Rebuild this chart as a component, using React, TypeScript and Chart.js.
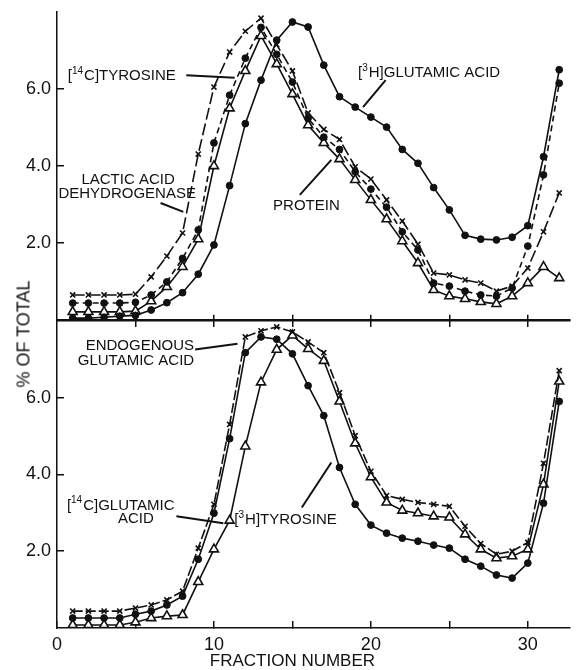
import React, { useEffect, useRef } from 'react';
import { Chart, registerables } from 'chart.js';

Chart.register(...registerables);

const INK = '#111';
const FONT = 'Liberation Sans';
Chart.defaults.font.family = FONT;

// ---- data ----
const FRACTIONS = [1, 2, 3, 4, 5, 6, 7, 8, 9, 10, 11, 12, 13, 14, 15, 16, 17, 18, 19, 20, 21, 22, 23, 24, 25, 26, 27, 28, 29, 30, 31, 32];
const X_MAX = 32.7;
const Y_MAX = 8;
const Y_TICKS = [2, 4, 6];
const X_TICKS = [5, 10, 15, 20, 25, 30];
const X_LABEL_TICKS = [0, 5, 10, 15, 20, 25, 30];
const X_TICK_LABELS: Record<number, string> = { 0: '0', 10: '10', 20: '20', 30: '30' };

// top panel
const glutamic3H = [0.05, 0.05, 0.07, 0.1, 0.12, 0.26, 0.45, 0.71, 1.19, 1.95, 3.49, 5.1, 6.23, 7.27, 7.74, 7.61, 6.62, 5.8, 5.53, 5.27, 5.01, 4.43, 4.07, 3.44, 2.86, 2.2, 2.1, 2.08, 2.15, 2.45, 4.24, 6.5];
const tyrosine14C = [0.44, 0.44, 0.44, 0.44, 0.46, 0.65, 0.99, 1.6, 2.34, 4.6, 5.84, 6.8, 7.6, 6.9, 6.18, 5.24, 4.75, 4.43, 3.85, 3.4, 2.93, 2.29, 1.82, 0.96, 0.88, 0.75, 0.65, 0.62, 0.83, 1.92, 3.77, 6.15];
const lactateDH = [0.65, 0.65, 0.65, 0.65, 0.67, 1.12, 1.66, 2.26, 4.31, 6.05, 6.96, 7.5, 7.84, 7.15, 6.47, 5.38, 4.95, 4.69, 3.98, 3.66, 3.12, 2.57, 1.97, 1.22, 1.17, 1.04, 0.96, 0.75, 0.88, 1.35, 2.29, 3.3];
const protein = [0.21, 0.21, 0.21, 0.21, 0.23, 0.49, 0.86, 1.38, 2.1, 4.0, 5.5, 6.47, 7.38, 6.65, 5.87, 5.06, 4.6, 4.18, 3.64, 3.12, 2.62, 2.05, 1.48, 0.78, 0.62, 0.55, 0.47, 0.42, 0.62, 0.96, 1.38, 1.09];

// bottom panel
const endogenousGlu = [0.44, 0.44, 0.44, 0.44, 0.52, 0.6, 0.73, 0.96, 2.08, 3.22, 5.3, 7.58, 7.74, 7.84, 7.71, 7.45, 7.17, 6.13, 5.01, 4.08, 3.45, 3.35, 3.27, 3.22, 3.17, 2.65, 2.2, 1.92, 2.0, 2.23, 4.29, 6.7];
const tyrosine3H = [0.26, 0.26, 0.26, 0.26, 0.36, 0.44, 0.6, 0.83, 1.79, 2.99, 4.93, 7.17, 7.58, 7.52, 7.14, 6.31, 5.53, 4.18, 3.22, 2.68, 2.47, 2.34, 2.26, 2.16, 2.08, 1.79, 1.61, 1.38, 1.3, 1.69, 3.25, 5.9];
const glutamic14C = [0.08, 0.08, 0.08, 0.08, 0.15, 0.26, 0.31, 0.34, 1.2, 2.05, 2.8, 4.73, 6.4, 7.25, 7.62, 7.27, 6.96, 5.9, 4.81, 3.93, 3.27, 3.06, 2.99, 2.91, 2.88, 2.44, 2.05, 1.82, 1.87, 2.05, 3.74, 6.42];

// ---- annotations (data units) ----
type Part = { t: string; sup?: boolean };
type NoteLine = { parts: Part[]; x: number; y: number; align: 'left' | 'center' };
type Note = { lines: NoteLine[]; leader: [number, number, number, number] };

const TOP_NOTES: Note[] = [
  { lines: [{ parts: [{ t: '[' }, { t: '14', sup: true }, { t: 'C]TYROSINE' }], x: 0.69, y: 6.34, align: 'left' }], leader: [8.24, 6.36, 11.32, 6.29] },
  { lines: [{ parts: [{ t: '[' }, { t: '3', sup: true }, { t: 'H]GLUTAMIC ACID' }], x: 19.18, y: 6.42, align: 'left' }], leader: [20.94, 6.23, 19.5, 5.53] },
  { lines: [
      { parts: [{ t: 'LACTIC ACID' }], x: 4.53, y: 3.64, align: 'center' },
      { parts: [{ t: 'DEHYDROGENASE' }], x: 4.47, y: 3.27, align: 'center' },
    ], leader: [6.6, 3.04, 8.05, 2.81] },
  { lines: [{ parts: [{ t: 'PROTEIN' }], x: 13.77, y: 2.96, align: 'left' }], leader: [15.47, 3.25, 17.48, 4.16] },
];

const BOTTOM_NOTES: Note[] = [
  { lines: [
      { parts: [{ t: 'ENDOGENOUS' }], x: 5.28, y: 7.35, align: 'center' },
      { parts: [{ t: 'GLUTAMIC ACID' }], x: 5.03, y: 6.96, align: 'center' },
    ], leader: [8.8, 7.25, 11.5, 7.4] },
  { lines: [
      { parts: [{ t: '[' }, { t: '14', sup: true }, { t: 'C]GLUTAMIC' }], x: 0.63, y: 3.19, align: 'left' },
      { parts: [{ t: 'ACID' }], x: 5.03, y: 2.83, align: 'center' },
    ], leader: [7.61, 2.91, 10.6, 2.73] },
  { lines: [{ parts: [{ t: '[' }, { t: '3', sup: true }, { t: 'H]TYROSINE' }], x: 11.3, y: 2.81, align: 'left' }], leader: [15.6, 3.14, 17.48, 4.31] },
];

const NOTE_FONT = `15px "${FONT}"`;
const SUP_FONT = `10px "${FONT}"`;

function notesPlugin(notes: Note[], xTitle?: string) {
  return {
    id: 'notes',
    afterDatasetsDraw(chart: any) {
      const xs = chart.scales.x;
      const ys = chart.scales.y;
      const ctx = chart.ctx as CanvasRenderingContext2D;
      ctx.save();
      ctx.fillStyle = INK;
      ctx.strokeStyle = INK;
      ctx.textBaseline = 'middle';
      ctx.textAlign = 'left';
      for (const n of notes) {
        ctx.lineWidth = 2;
        ctx.setLineDash([]);
        ctx.beginPath();
        ctx.moveTo(xs.getPixelForValue(n.leader[0]), ys.getPixelForValue(n.leader[1]));
        ctx.lineTo(xs.getPixelForValue(n.leader[2]), ys.getPixelForValue(n.leader[3]));
        ctx.stroke();
        for (const line of n.lines) {
          const widths = line.parts.map((p) => {
            ctx.font = p.sup ? SUP_FONT : NOTE_FONT;
            return ctx.measureText(p.t).width;
          });
          const total = widths.reduce((a, b) => a + b, 0);
          let px = xs.getPixelForValue(line.x);
          if (line.align === 'center') px -= total / 2;
          const py = ys.getPixelForValue(line.y);
          line.parts.forEach((p, i) => {
            ctx.font = p.sup ? SUP_FONT : NOTE_FONT;
            ctx.fillText(p.t, px, p.sup ? py - 5 : py);
            px += widths[i] + (p.sup ? 1 : 0);
          });
        }
      }
      if (xTitle) {
        ctx.font = `17px "${FONT}"`;
        ctx.textAlign = 'center';
        ctx.fillText(xTitle, xs.getPixelForValue(15), chart.chartArea.bottom + 33);
      }
      ctx.restore();
    },
  };
}

function zeroPadding(s: any) {
  s.paddingTop = 0;
  s.paddingBottom = 0;
  s.paddingLeft = 0;
  s.paddingRight = 0;
}

type Marker = 'dot' | 'x' | 'tri';
function series(label: string, values: number[], marker: Marker, dash: number[]) {
  const base: any = {
    label,
    data: values.map((v, i) => ({ x: FRACTIONS[i], y: v })),
    borderColor: INK,
    borderWidth: 1.6,
    borderDash: dash,
    fill: false,
    tension: 0,
    pointBorderColor: INK,
  };
  if (marker === 'dot') return { ...base, pointStyle: 'circle', pointRadius: 3.4, pointBackgroundColor: INK, pointBorderWidth: 1 };
  if (marker === 'x') return { ...base, pointStyle: 'crossRot', pointRadius: 3.6, pointBorderWidth: 1.6, pointBackgroundColor: INK };
  return { ...base, pointStyle: 'triangle', pointRadius: 5.2, pointBackgroundColor: '#fff', pointBorderWidth: 1.6 };
}

function yScale() {
  return {
    type: 'linear',
    min: 0,
    max: Y_MAX,
    afterBuildTicks: (s: any) => { s.ticks = Y_TICKS.map((v) => ({ value: v })); },
    afterFit: (s: any) => { s.width = 57; zeroPadding(s); },
    ticks: {
      padding: 13,
      color: INK,
      font: { size: 18, family: FONT },
      callback: (v: any) => Number(v).toFixed(1),
    },
    grid: { drawOnChartArea: false, drawTicks: true, tickLength: -7, color: INK, lineWidth: 1.5 },
    border: { display: true, color: INK, width: 1.5 },
  };
}

export default function App() {
  const topRef = useRef<HTMLCanvasElement>(null);
  const botRef = useRef<HTMLCanvasElement>(null);

  useEffect(() => {
    const common = {
      animation: false,
      responsive: false,
      events: [],
      plugins: { legend: { display: false }, tooltip: { enabled: false } },
    };

    const top = new Chart(topRef.current as HTMLCanvasElement, {
      type: 'line',
      data: {
        datasets: [
          series('[3H]glutamic acid', glutamic3H, 'dot', []),
          series('[14C]tyrosine', tyrosine14C, 'dot', [6, 4]),
          series('Lactic acid dehydrogenase', lactateDH, 'x', [12, 4]),
          series('Protein', protein, 'tri', []),
        ],
      },
      options: {
        ...common,
        layout: { padding: { top: 12, left: 0, right: 0, bottom: 0 } },
        scales: {
          x: {
            type: 'linear',
            min: 0,
            max: X_MAX,
            position: 'bottom',
            afterBuildTicks: (s: any) => { s.ticks = X_TICKS.map((v) => ({ value: v })); },
            afterFit: (s: any) => { s.height = 10; zeroPadding(s); },
            ticks: { display: false },
            grid: { drawOnChartArea: false, drawTicks: true, tickLength: 7, color: INK, lineWidth: 1.5 },
            border: { display: true, color: INK, width: 1.5 },
          },
          y: yScale(),
        },
      } as any,
      plugins: [notesPlugin(TOP_NOTES)],
    });

    const bottom = new Chart(botRef.current as HTMLCanvasElement, {
      type: 'line',
      data: {
        datasets: [
          series('Endogenous glutamic acid', endogenousGlu, 'x', [10, 3]),
          series('[3H]tyrosine', tyrosine3H, 'dot', []),
          series('[14C]glutamic acid', glutamic14C, 'tri', []),
        ],
      },
      options: {
        ...common,
        layout: { padding: 0 },
        scales: {
          x: {
            type: 'linear',
            min: 0,
            max: X_MAX,
            position: 'bottom',
            afterBuildTicks: (s: any) => { s.ticks = X_LABEL_TICKS.map((v) => ({ value: v })); },
            afterFit: (s: any) => { s.height = 42; zeroPadding(s); },
            ticks: {
              padding: 13,
              color: INK,
              autoSkip: false,
              maxRotation: 0,
              font: { size: 18, family: FONT },
              callback: (v: any) => X_TICK_LABELS[Number(v)] ?? '',
            },
            grid: { drawOnChartArea: false, drawTicks: true, tickLength: -7, color: INK, lineWidth: 1.5 },
            border: { display: true, color: INK, width: 1.5 },
          },
          x2: {
            type: 'linear',
            min: 0,
            max: X_MAX,
            position: 'top',
            afterBuildTicks: (s: any) => { s.ticks = X_TICKS.map((v) => ({ value: v })); },
            afterFit: (s: any) => { s.height = 6; zeroPadding(s); },
            ticks: { display: false },
            grid: { drawOnChartArea: false, drawTicks: true, tickLength: 6, color: INK, lineWidth: 1.5 },
            border: { display: true, color: INK, width: 1.5 },
          },
          y: yScale(),
        },
      } as any,
      plugins: [notesPlugin(BOTTOM_NOTES, 'FRACTION NUMBER')],
    });

    return () => {
      top.destroy();
      bottom.destroy();
    };
  }, []);

  return (
    <div>
      <canvas ref={topRef} width={577} height={330} style={{ position: 'absolute', left: 0, top: 0 }} />
      <canvas ref={botRef} width={577} height={356} style={{ position: 'absolute', left: 0, top: 314 }} />
      <div
        style={{
          position: 'absolute',
          left: 24,
          top: 334,
          transform: 'translate(-50%, -50%) rotate(-90deg)',
          font: `18px "${FONT}"`,
          whiteSpace: 'nowrap',
          color: INK,
        }}
      >
        % OF TOTAL
      </div>
    </div>
  );
}
